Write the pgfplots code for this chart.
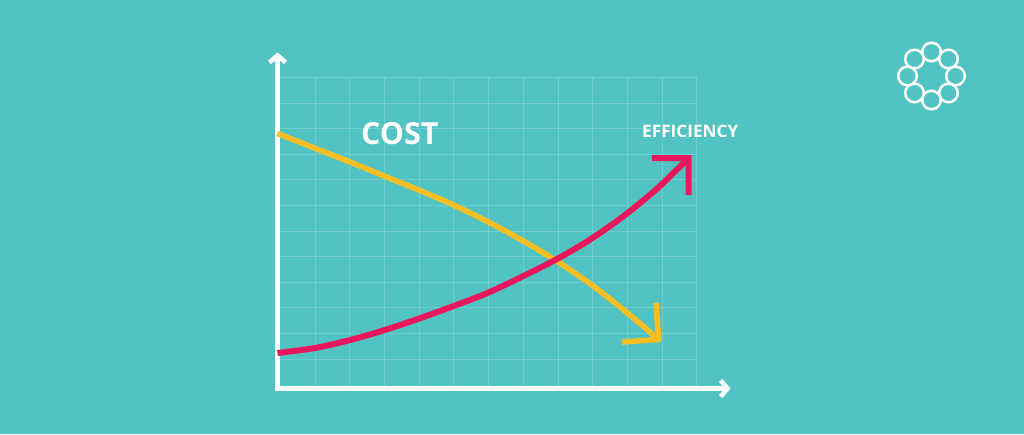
\documentclass[border=0pt]{standalone}
\usepackage{fontspec}
\setmainfont{Open Sans}
\usepackage{pgfplots}
\pgfplotsset{compat=1.18}
\usetikzlibrary{arrows.meta}

\definecolor{bgteal}{RGB}{82,195,195}
\definecolor{costyellow}{RGB}{251,190,35}
\definecolor{effpink}{RGB}{236,22,92}

\begin{document}
\begin{tikzpicture}
\fill[bgteal] (0,0) rectangle (1024pt,434pt);
\useasboundingbox (0,0) rectangle (1024pt,434pt);

% logo, ring of linked circles
\begin{scope}[shift={(931.5pt,358pt)}, draw=white, fill=bgteal, line width=2.5pt]
  \foreach \a in {90,45,...,-225} \filldraw (\a:24pt) circle (9.3pt);
\end{scope}

\begin{axis}[
  at={(277.5pt,45.5pt)}, anchor=south west,
  scale only axis, width=419.2pt, height=311.1pt,
  xmin=0, xmax=419.2, ymin=0, ymax=311.1,
  axis lines=left,
  axis line style={white, line width=4.5pt, shorten <=-2.25pt},
  x axis line style={-{Straight Barb[length=7pt,width=16pt]}, shorten >=-34pt},
  y axis line style={-{Straight Barb[length=7pt,width=16pt]}, shorten >=-25pt},
  xtick={37.5,72.2,106.9,141.6,176.3,211,245.7,280.4,315.1,349.8,384.5,419.2},
  ytick={29.5,55.1,80.7,106.3,131.9,157.5,183.1,208.7,234.3,259.9,285.5,311.1},
  xticklabels={}, yticklabels={},
  major tick length=0pt,
  grid=major,
  major grid style={white, opacity=0.17, line width=0.8pt},
  clip=false,
]
% cost
\addplot[costyellow, line width=5.5pt, smooth,
  -{Straight Barb[length=26pt,width=52pt]}] coordinates {
  (0,255) (35,241.3) (70,227.5) (105,213.2) (140,199) (175,184)
  (210,167) (245,148) (280,127) (315,103) (350,75.5) (384,46.5)
};
% efficiency
\addplot[effpink, line width=6pt, smooth,
  -{Straight Barb[length=26pt,width=52pt]}] coordinates {
  (0,35.5) (37.5,40.5) (70.8,48) (104.2,57.5) (137.5,68.5) (170.8,80.5)
  (207.5,94.5) (240.8,110) (280.8,130.2) (314.2,150) (347.5,173.5)
  (380.8,201) (414,233.5)
};
\node[white, font=\bfseries\fontsize{30.4}{32}\selectfont, anchor=base]
  at (axis cs:122.2,243.5) {COST};
\node[white, font=\bfseries\fontsize{17.2}{19}\selectfont, anchor=base]
  at (axis cs:412.8,251.2) {EFFICIENCY};
\end{axis}
\end{tikzpicture}
\end{document}
